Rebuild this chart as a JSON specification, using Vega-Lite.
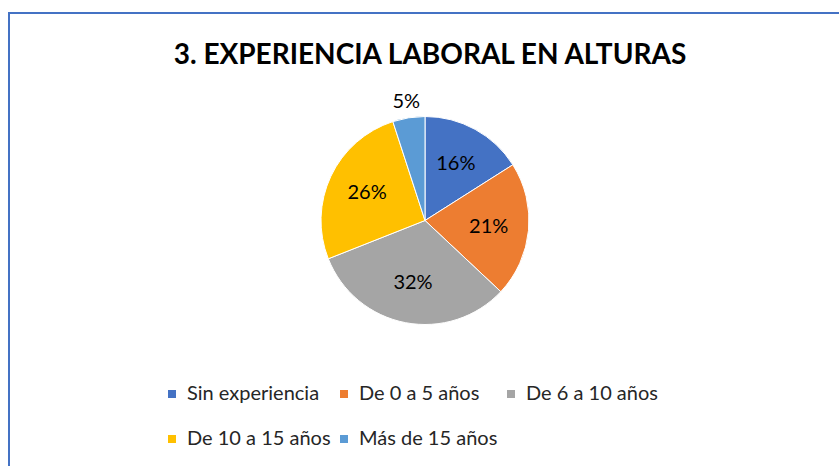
{
  "$schema": "https://vega.github.io/schema/vega-lite/v6.json",
  "width": 832,
  "height": 455,
  "autosize": {"type": "none"},
  "padding": {"left": 9, "top": 13, "right": 0, "bottom": 0},
  "background": "white",
  "config": {
    "view": {"stroke": null},
    "font": "Lato"
  },
  "title": {
    "text": "3. EXPERIENCIA LABORAL EN ALTURAS",
    "font": "Lato",
    "fontSize": 28,
    "fontWeight": "bold",
    "color": "#000000",
    "anchor": "middle",
    "offset": -58,
    "dx": 5
  },
  "data": {
    "values": [
      {"categoria": "Sin experiencia", "orden": 1, "porcentaje": 0.16},
      {"categoria": "De 0 a 5 años", "orden": 2, "porcentaje": 0.21},
      {"categoria": "De 6 a 10 años", "orden": 3, "porcentaje": 0.32},
      {"categoria": "De 10 a 15 años", "orden": 4, "porcentaje": 0.26},
      {"categoria": "Más de 15 años", "orden": 5, "porcentaje": 0.05}
    ]
  },
  "layer": [
    {
      "transform": [{"filter": "datum.orden == 1"}],
      "mark": {"type": "rect", "fill": null, "fillOpacity": 0, "stroke": "#4472C4", "strokeWidth": 2},
      "encoding": {}
    },
    {
      "mark": {"type": "arc", "outerRadius": 104, "stroke": "white", "strokeWidth": 1, "yOffset": -20},
      "encoding": {
        "theta": {"field": "porcentaje", "type": "quantitative", "stack": true},
        "order": {"field": "orden", "type": "quantitative"},
        "color": {
          "field": "categoria",
          "type": "nominal",
          "sort": ["Sin experiencia", "De 0 a 5 años", "De 6 a 10 años", "De 10 a 15 años", "Más de 15 años"],
          "scale": {
            "domain": ["Sin experiencia", "De 0 a 5 años", "De 6 a 10 años", "De 10 a 15 años", "Más de 15 años"],
            "range": ["#4472C4", "#ED7D31", "#A5A5A5", "#FFC000", "#5B9BD5"]
          },
          "legend": {
            "title": null,
            "orient": "none",
            "direction": "horizontal",
            "legendX": 153,
            "legendY": 371,
            "columns": 3,
            "columnPadding": 3,
            "rowPadding": 25,
            "padding": 0,
            "symbolType": "square",
            "symbolSize": 64,
            "symbolStrokeWidth": 0,
            "labelFont": "Lato",
            "labelFontSize": 20,
            "labelColor": "#262626",
            "labelOffset": 5,
            "labelLimit": 300
          }
        }
      }
    },
    {
      "transform": [{"filter": "datum.orden < 5"}],
      "mark": {"type": "text", "radius": 64, "fontSize": 20, "font": "Lato", "color": "#000000", "yOffset": -20},
      "encoding": {
        "theta": {"field": "porcentaje", "type": "quantitative", "stack": true},
        "order": {"field": "orden", "type": "quantitative"},
        "text": {"field": "porcentaje", "type": "quantitative", "format": ".0%"}
      }
    },
    {
      "mark": {"type": "text", "radius": 120, "fontSize": 20, "font": "Lato", "color": "#000000", "yOffset": -20},
      "encoding": {
        "theta": {"field": "porcentaje", "type": "quantitative", "stack": true},
        "order": {"field": "orden", "type": "quantitative"},
        "text": {"field": "porcentaje", "type": "quantitative", "format": ".0%"},
        "opacity": {"condition": {"test": "datum.orden == 5", "value": 1}, "value": 0}
      }
    }
  ]
}
